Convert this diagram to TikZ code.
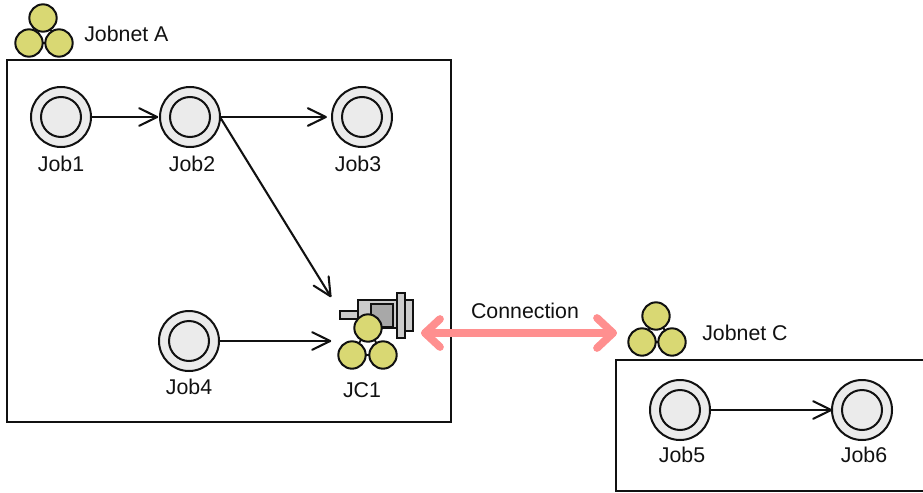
\documentclass[tikz,border=0pt]{standalone}
\usepackage{fontspec}
\setmainfont{Liberation Sans}
\usetikzlibrary{calc}
\definecolor{jobfill}{HTML}{EBEBEB}
\definecolor{ball}{HTML}{D9D873}
\definecolor{conn}{HTML}{FF8F8F}
\definecolor{lightg}{HTML}{CCCCCC}
\definecolor{darkg}{HTML}{A8A8A8}
\definecolor{ink}{HTML}{111111}
\pgfarrowsdeclare{openv}{openv}
{\pgfarrowsleftextend{-13.5pt}\pgfarrowsrightextend{0.6pt}}
{\pgfsetdash{}{0pt}\pgfsetroundjoin\pgfsetroundcap
 \pgfpathmoveto{\pgfpoint{-13.5pt}{6.6pt}}
 \pgfpathlineto{\pgfpoint{0pt}{0pt}}
 \pgfpathlineto{\pgfpoint{-13.5pt}{-6.6pt}}
 \pgfusepathqstroke}
\tikzset{
  x=0.75pt,y=-0.75pt,
  frame/.style={draw=ink,line width=1.6pt,fill=white},
  jobouter/.style={circle,draw=ink,fill=jobfill,line width=1.5pt,minimum size=45pt,inner sep=0pt,outer sep=0pt},
  jobinner/.style={circle,draw=ink,fill=jobfill,line width=1.5pt,minimum size=30pt,inner sep=0pt},
  ballnode/.style={circle,draw=ink,fill=ball,line width=1.5pt,minimum size=20.5pt,inner sep=0pt},
  txt/.style={font=\fontsize{16}{19}\selectfont,text=ink,inner sep=0pt},
  flow/.style={draw=ink,line width=1.55pt,-openv},
  link/.style={draw=ink,line width=1.4pt},
  connline/.style={draw=conn,line width=5.8pt,line cap=round,line join=round},
  part/.style={draw=ink,line width=1.4pt},
}
\newcommand{\jobat}[4]{%
  \node[jobouter] (#1) at (#2) {};
  \node[jobinner] at (#2) {};
  \node[txt] (#1t) at (#4) {#3};
}
\newcommand{\trio}[4]{%
  \draw[link] (#2) -- (#3) (#2) -- (#4) (#3) -- (#4);
  \node[ballnode] (#1a) at (#2) {};
  \node[ballnode] (#1b) at (#3) {};
  \node[ballnode] (#1c) at (#4) {};
}
\begin{document}
\begin{tikzpicture}
\useasboundingbox (0,0) rectangle (923,492);
\fill[white] (0,0) rectangle (923,492);
\draw[frame] (7,60) rectangle (451,422);
\draw[frame] (616,360) rectangle (930,491);
% jobs
\jobat{job1}{61,117}{Job1}{61,164}
\jobat{job2}{190,117}{Job2}{192,164}
\jobat{job3}{362,117}{Job3}{358,164}
\jobat{job4}{189,341}{Job4}{189,387}
\jobat{job5}{680,410}{Job5}{682,455}
\jobat{job6}{862,410}{Job6}{864,455}
% JC1 icon
\node[minimum width=63pt,minimum height=66pt,inner sep=0pt,outer sep=0pt] (jc1) at (373,341) {};
\draw[part,fill=lightg] (340,311) rectangle (360,319);
\draw[part,fill=lightg] (358,300) rectangle (398,328);
\draw[part,fill=darkg] (371,304) rectangle (393,327);
\draw[part,fill=lightg] (405,300) rectangle (413,331);
\draw[part,fill=lightg] (397,293) rectangle (405,338);
\trio{jcb}{368,328}{352,355}{383,355}
\node[txt] (jc1t) at (362,390) {JC1};
% jobnet icons and labels
\trio{nab}{43,18}{29,43}{59,43}
\node[txt,anchor=west] (nat) at (84,34) {Jobnet A};
\trio{ncb}{656,316}{642,342}{672,342}
\node[txt,anchor=west] (nct) at (702,333) {Jobnet C};
% flows
\draw[flow,shorten >=1.5pt] (job1) -- (job2);
\draw[flow,shorten >=4pt] (job2) -- (job3);
\draw[flow] (job5) -- (job6);
\draw[flow] (job4) -- (jc1.west);
\draw[flow] (job2.east) -- (jc1.north west);
% connection
\coordinate (cl) at (425,333);
\coordinate (cr) at (613,333);
\draw[connline] (cl) -- (cr);
\draw[connline] ($(cl)+(15,-14)$) -- (cl) -- ($(cl)+(15,14)$);
\draw[connline] ($(cr)+(-16,-15)$) -- (cr) -- ($(cr)+(-16,15)$);
\node[txt] (clab) at (525,311) {Connection};
\end{tikzpicture}
\end{document}
